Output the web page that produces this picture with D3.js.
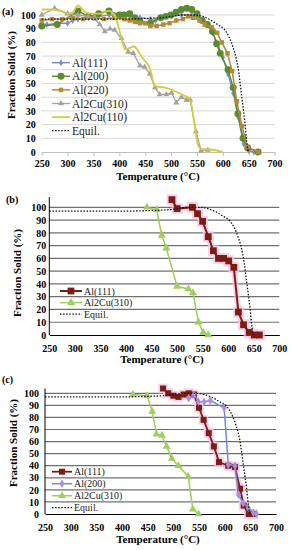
<!DOCTYPE html>
<html>
<head>
<meta charset="utf-8">
<script src="https://cdn.jsdelivr.net/npm/d3@7/dist/d3.min.js"></script>
<style>
  body { margin: 0; background: #fff; }
  svg, svg text { font-family: "Liberation Serif", "DejaVu Serif", serif !important; }
</style>
</head>
<body>
<svg width="290" height="550"></svg>
<script>
// ---- data ----
var tempTicks = [250, 300, 350, 400, 450, 500, 550, 600, 650, 700];
var fracTicks = [0, 10, 20, 30, 40, 50, 60, 70, 80, 90, 100];

// equilibrium curve (same in all three panels)
var equil = [[250,97],[300,97],[350,97],[400,97],[450,97.5],[480,98],[500,99],[520,100],[545,100],[560,99],
  [578,96],[590,93],[604,89],[612,84],[620,76],[626,68],[630,60],[636,42],[640,30],[643,20],[646,8],[648,2],[650,0]];

// panel (a)
var aAl111 = [[250,92],[260,93],[280,94],[300,94],[310,96],[320,97],[340,98],[360,99],[380,100],[400,100],[420,99],
  [440,98],[460,97],[470,96],[480,98],[500,99],[520,100],[540,100],[550,99],[560,96],[570,93],[580,87],[590,79],
  [600,69],[610,57],[620,43],[630,25],[640,6],[650,1],[660,0]];
var aAl200 = [[250,92],[280,93],[320,103],[340,99],[360,101],[380,103],[400,100],[410,100],[420,101],[430,98],
  [440,95],[460,94],[480,98],[490,99],[500,100],[510,102],[520,104],[530,105],[540,104],[550,101],[560,96],
  [570,93],[580,88],[588,79],[595,72],[610,60],[620,47],[629,28],[639,10],[648,3],[668,0]];
var aAl220 = [[250,96],[270,97],[290,97],[310,98],[330,97],[350,98],[370,97],[390,98],[410,97],[420,96],[430,95],
  [440,94],[450,94],[460,92],[472,92],[485,93],[497,94],[510,96],[523,97],[533,99],[542,98],[555,96],[565,93],
  [579,91],[589,87],[598,80],[609,72],[618,59],[627,37],[637,19],[647,4],[668,0]];
var aAl2Cu310 = [[250,100],[275,105],[300,101],[320,100],[340,99],[353,97],[362,93],[372,88],[382,90],[391,89],
  [404,83],[417,73],[427,72],[440,63],[449,62],[459,57],[469,47],[478,42],[491,42],[501,43],[510,36],[520,40],
  [530,38],[537,38],[548,15],[558,1],[571,1.5]];
var aAl2Cu110 = [[250,104],[270,104],[285,103],[300,101],[310,102],[320,107],[335,102],[350,101],[365,101],[380,103],
  [392,99],[398,92],[404,83],[411,75],[420,76],[428,77],[436,74],[446,68],[459,61],[469,48],[488,47],[510,44],
  [526,41],[537,38],[545,21],[552,5],[560,2],[570,2],[600,0]];

// panel (b)
var bAl111 = [[490,106],[500,99],[530,100],[540,95],[550,89],[561,77],[571,66],[581,60],[591,60],[601,58],
  [611,53],[620,18],[630,8],[641,2],[651,0],[661,0]];
var bAl2Cu310 = [[441,100],[460,98],[470,78],[479,68],[500,38],[522,36],[531,33],[542,10],[551,2],[561,0]];

// panel (c)
var cAl111 = [[480,104],[490,100],[500,98],[510,97],[520,99],[530,100],[540,99],[550,88],[559,78],[569,67],
  [579,56],[589,43],[607,40],[620,39],[630,21],[637,7],[647,0],[656,0]];
var cAl200 = [[530,96],[540,99],[549,93],[560,93],[572,94],[599,88],[607,41],[620,40],[627,16],[636,9],[646,5],
  [656,1],[662,0]];
var cAl2Cu310 = [[421,99],[449,98],[459,85],[467,66],[478,65],[487,56],[497,46],[510,40],[529,31],[538,4],[549,0]];

var svg = d3.select("svg");
var serif = "'Liberation Serif', 'DejaVu Serif', serif";

// draws one panel; p holds layout, series holds the lines
function drawPanel(p, series) {
    var x = d3.scaleLinear().domain([250, 700]).range([p.left, p.right]);
    var y = d3.scaleLinear().domain([0, 100]).range([p.bottom, p.top]);
    var g = svg.append("g").attr("font-family", serif);

    // horizontal gridlines
    g.selectAll(".grid")
        .data(fracTicks.slice(1))
        .enter().append("line")
        .attr("x1", x(250)).attr("x2", x(700))
        .attr("y1", function (d) { return y(d); })
        .attr("y2", function (d) { return y(d); })
        .attr("stroke", p.gridColor)
        .attr("stroke-width", p.gridWidth);

    // x axis
    var xa = g.append("g")
        .attr("transform", "translate(0," + p.bottom + ")")
        .call(d3.axisBottom(x).tickValues(tempTicks).tickSizeInner(p.xTick).tickSizeOuter(0).tickPadding(p.xPad))
        .attr("font-family", serif);
    xa.select(".domain").attr("stroke", p.axisColor).attr("stroke-width", p.axisWidth);
    xa.selectAll(".tick line").attr("stroke", p.axisColor);
    xa.selectAll("text").attr("font-size", 10).attr("font-weight", "bold").attr("fill", "#000");

    // y axis
    var ya = g.append("g")
        .attr("transform", "translate(" + p.left + ",0)")
        .call(d3.axisLeft(y).tickValues(fracTicks).tickSize(0).tickPadding(p.yPad))
        .attr("font-family", serif);
    ya.select(".domain").remove();
    ya.selectAll("text").attr("font-size", 10).attr("font-weight", "bold").attr("fill", "#000");
    if (p.yLine) {
        g.append("line")
            .attr("x1", p.left).attr("x2", p.left)
            .attr("y1", y(p.yTop)).attr("y2", p.bottom)
            .attr("stroke", "#000").attr("stroke-width", 1);
    }

    // axis titles
    g.append("text")
        .attr("x", p.xTitleX).attr("y", p.xTitleY)
        .attr("text-anchor", "middle")
        .attr("font-size", 11).attr("font-weight", "bold")
        .text("Temperature (°C)");
    g.append("text")
        .attr("transform", "translate(" + p.yTitleX + "," + p.yTitleY + ") rotate(-90)")
        .attr("text-anchor", "middle")
        .attr("font-size", 11).attr("font-weight", "bold")
        .text("Fraction Solid (%)");
    g.append("text")
        .attr("x", p.tagX).attr("y", p.tagY)
        .attr("font-size", 10).attr("font-weight", "bold")
        .text(p.tag);

    // series
    series.forEach(function (s) {
        var line = d3.line()
            .x(function (d) { return x(d[0]); })
            .y(function (d) { return y(d[1]); })
            .curve(s.smooth ? d3.curveMonotoneX : d3.curveLinear);
        if (s.halo) {
            g.append("path").datum(s.data).attr("d", line)
                .attr("fill", "none").attr("stroke", s.halo).attr("stroke-width", 6)
                .attr("stroke-linejoin", "round").attr("opacity", 0.7);
            g.selectAll(null).data(s.data).enter().append("path")
                .attr("transform", function (d) { return "translate(" + x(d[0]) + "," + y(d[1]) + ")"; })
                .attr("d", d3.symbol().type(s.symbol).size(s.size * 2.6))
                .attr("fill", s.halo).attr("opacity", 0.8);
        }
        g.append("path").datum(s.data).attr("d", line)
            .attr("fill", "none")
            .attr("stroke", s.color)
            .attr("stroke-width", s.width)
            .attr("stroke-dasharray", s.dash || null);
        if (s.symbol) {
            g.selectAll(null).data(s.data).enter().append("path")
                .attr("transform", function (d) { return "translate(" + x(d[0]) + "," + y(d[1]) + ")"; })
                .attr("d", d3.symbol().type(s.symbol).size(s.size))
                .attr("fill", s.fill || s.color);
        }
    });

    // legend
    var leg = g.append("g");
    series.forEach(function (s, i) {
        var ly = p.legY + i * p.legStep;
        leg.append("line")
            .attr("x1", p.legX).attr("x2", p.legX + p.legLen)
            .attr("y1", ly).attr("y2", ly)
            .attr("stroke", s.color).attr("stroke-width", s.width)
            .attr("stroke-dasharray", s.dash || null);
        if (s.symbol) {
            leg.append("path")
                .attr("transform", "translate(" + (p.legX + p.legLen / 2) + "," + ly + ")")
                .attr("d", d3.symbol().type(s.symbol).size(s.size))
                .attr("fill", s.fill || s.color);
        }
        leg.append("text")
            .attr("x", p.legX + p.legLen + 2).attr("y", ly)
            .attr("dy", "0.35em")
            .attr("font-size", p.legFont)
            .attr("fill", "#222")
            .text(s.name);
    });
}

var equilSeries = { name: "Equil.", data: equil, color: "#111", width: 1.3, dash: "1.5,1.6", smooth: true };

// (a)
drawPanel({
    tag: "(a)", tagX: 2, tagY: 15,
    left: 41.7, right: 274.6, top: 15, bottom: 152,
    gridColor: "#d9d9d9", gridWidth: 1, axisColor: "#bfbfbf", axisWidth: 1,
    xTick: 4, xPad: 4, yPad: 6, yLine: false,
    xTitleX: 158, xTitleY: 180, yTitleX: 15, yTitleY: 75,
    legX: 52, legY: 62.7, legStep: 13.6, legLen: 18, legFont: 11.5
}, [
    { name: "Al(111)", data: aAl111, color: "#7e8cc6", width: 1.4, symbol: d3.symbolDiamond, size: 14 },
    { name: "Al(200)", data: aAl200, color: "#5c8a2e", width: 1.5, symbol: d3.symbolCircle, size: 38 },
    { name: "Al(220)", data: aAl220, color: "#b38a3a", width: 1.5, symbol: d3.symbolSquare, size: 20 },
    { name: "Al2Cu(310)", data: aAl2Cu310, color: "#a2a2a2", width: 1.3, symbol: d3.symbolTriangle, size: 16 },
    { name: "Al2Cu(110)", data: aAl2Cu110, color: "#d8cc3a", width: 1.8, smooth: true },
    equilSeries
]);

// (b)
drawPanel({
    tag: "(b)", tagX: 6, tagY: 203,
    left: 49.3, right: 279.3, top: 207.3, bottom: 335,
    gridColor: "#707070", gridWidth: 1.2, axisColor: "#000", axisWidth: 1.2,
    xTick: 0, xPad: 10, yPad: 3, yLine: true, yTop: 108,
    xTitleX: 162, xTitleY: 363, yTitleX: 21, yTitleY: 273,
    legX: 60, legY: 291, legStep: 11.6, legLen: 22, legFont: 10
}, [
    { name: "Al(111)", data: bAl111, color: "#7a1e12", width: 2, symbol: d3.symbolSquare, size: 46, halo: "#f8c6e8" },
    { name: "Al2Cu(310)", data: bAl2Cu310, color: "#9dcf5c", width: 1.5, symbol: d3.symbolTriangle, size: 28 },
    equilSeries
]);

// (c)
drawPanel({
    tag: "(c)", tagX: 2, tagY: 383,
    left: 45, right: 276, top: 393.3, bottom: 514,
    gridColor: "#707070", gridWidth: 1.2, axisColor: "#000", axisWidth: 1.2,
    xTick: 0, xPad: 10, yPad: 6, yLine: true, yTop: 104,
    xTitleX: 158, xTitleY: 543, yTitleX: 17, yTitleY: 443,
    legX: 52, legY: 471.7, legStep: 12, legLen: 20, legFont: 10
}, [
    { name: "Al(111)", data: cAl111, color: "#7a1e12", width: 1.8, symbol: d3.symbolSquare, size: 36, halo: "#f8c6e8" },
    { name: "Al(200)", data: cAl200, color: "#6f8ad8", width: 1.5, symbol: d3.symbolDiamond, size: 22, fill: "#a88fe0" },
    { name: "Al2Cu(310)", data: cAl2Cu310, color: "#9dcf5c", width: 1.5, symbol: d3.symbolTriangle, size: 26 },
    equilSeries
]);
</script>
</body>
</html>
